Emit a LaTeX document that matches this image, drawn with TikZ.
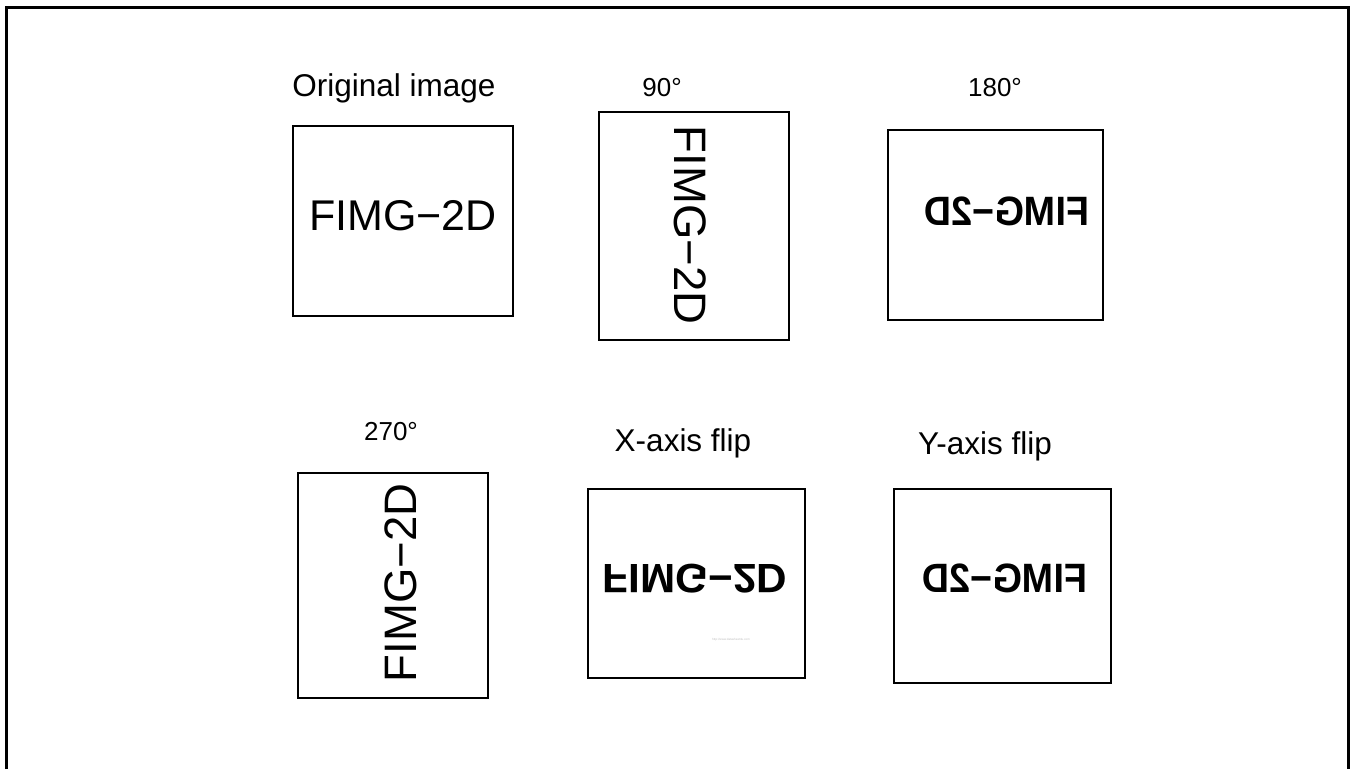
\documentclass[tikz,border=0pt]{standalone}
\usepackage{fontspec}
\setmainfont{Liberation Sans}
\begin{document}
\begin{tikzpicture}[x=1pt,y=-1pt,
  imgbox/.style={draw, line width=1.2pt, inner sep=0pt},
  lbl/.style={inner sep=0pt, font=\fontsize{26}{26}\selectfont},
  lblwide/.style={inner sep=0pt, font=\fontsize{31.5}{31.5}\selectfont},
  plain/.style={inner sep=0pt, font=\fontsize{43}{43}\selectfont},
  rot/.style={inner sep=0pt, font=\fontsize{45.5}{45.5}\selectfont},
  heavy/.style={inner sep=0pt, font=\fontsize{41}{41}\selectfont\bfseries}]
\useasboundingbox (0,0) rectangle (1352,769);
\draw[line width=3pt] (6,769) -- (6,7) -- (1348,7) -- (1348,769);

% boxes
\node[imgbox, minimum width=220pt, minimum height=190pt] (orig) at (403,221) {};
\node[imgbox, minimum width=190pt, minimum height=228pt] (r90) at (694,226) {};
\node[imgbox, minimum width=215pt, minimum height=190pt] (r180) at (995.5,225) {};
\node[imgbox, minimum width=190pt, minimum height=225pt] (r270) at (393,585.5) {};
\node[imgbox, minimum width=217pt, minimum height=189pt] (fx) at (696.5,583.5) {};
\node[imgbox, minimum width=217pt, minimum height=194pt] (fy) at (1002.5,586) {};

% labels
\node[lblwide] (lorig) at (394,88) {Original image};
\node[lbl] (l90) at (662,88) {90°};
\node[lbl] (l180) at (995,88) {180°};
\node[lbl] (l270) at (391,432) {270°};
\node[lblwide] (lfx) at (683,443) {X-axis flip};
\node[lblwide] (lfy) at (985,446) {Y-axis flip};

% contents
\node[plain] (torig) at (403,216) {FIMG−2D};
\node[rot, rotate=-90] (t90) at (690,225) {FIMG−2D};
\node[heavy, xscale=-0.92] (t180) at (1007,211) {FIMG−2D};
\node[rot, rotate=90] (t270) at (401,583) {FIMG−2D};
\node[heavy, yscale=-1, xscale=1.03] (tfx) at (695,579) {FIMG−2D};
\node[heavy, xscale=-0.92] (tfy) at (1005,578) {FIMG−2D};
\node[inner sep=0pt, font=\fontsize{3}{3}\selectfont, text=black!25] (wm) at (731,640) {http://www.datasheet4u.com};
\end{tikzpicture}
\end{document}
